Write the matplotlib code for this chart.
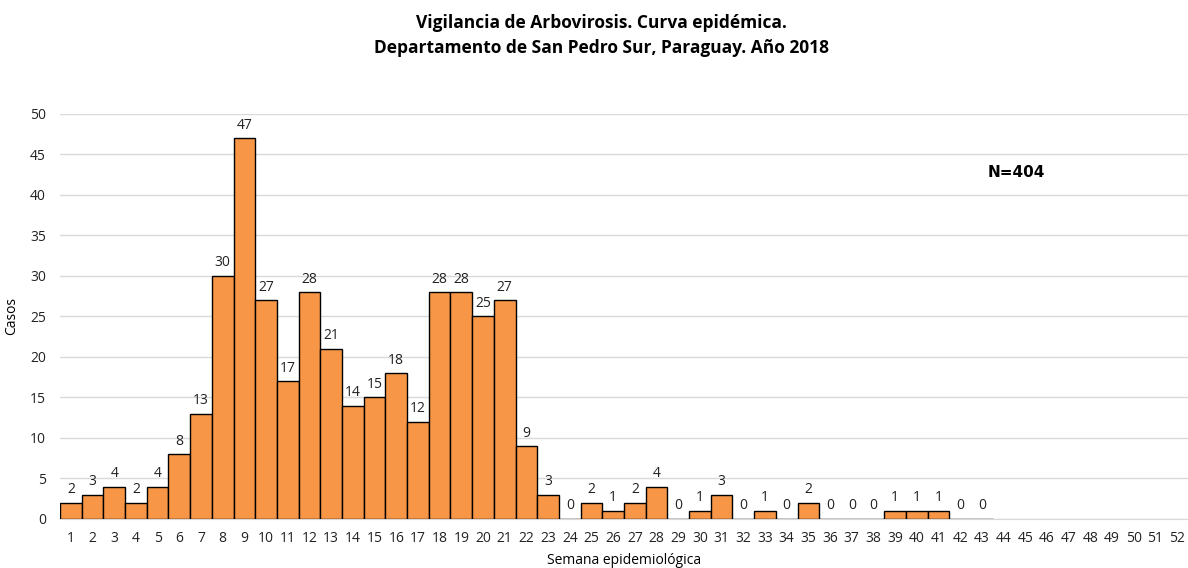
import matplotlib
matplotlib.use("Agg")
import matplotlib.pyplot as plt

# datos: casos por semana epidemiológica
semanas = list(range(1, 53))
casos = [2, 3, 4, 2, 4, 8, 13, 30, 47, 27, 17, 28, 21, 14, 15, 18, 12, 28, 28, 25,
         27, 9, 3, 0, 2, 1, 2, 4, 0, 1, 3, 0, 1, 0, 2, 0, 0, 0, 1, 1, 1, 0, 0]
titulo = "Vigilancia de Arbovirosis. Curva epidémica.\nDepartamento de San Pedro Sur, Paraguay. Año 2018"
total = "N=404"

plt.rcParams["font.family"] = ["Open Sans", "DejaVu Sans"]

fig = plt.figure(figsize=(11.88, 5.68), dpi=100)
ax = fig.add_axes([0.0505, 0.0863, 0.9495, 0.713])

semanas_con_datos = semanas[:len(casos)]
ax.bar(semanas_con_datos, casos, width=1.0, color="#F79646", edgecolor="black", linewidth=1.0, zorder=3)

for s, c in zip(semanas_con_datos, casos):
    ax.annotate(str(c), (s, c), xytext=(0, 4), textcoords="offset points",
                ha="center", va="bottom", fontsize=10, color="#222222")

ax.set_xlim(0.5, 52.5)
ax.set_ylim(0, 50)
ax.set_xticks(semanas)
ax.set_yticks(range(0, 51, 5))
ax.tick_params(axis="both", length=0, labelsize=10, colors="#222222")
ax.tick_params(axis="x", pad=9)
ax.tick_params(axis="y", pad=10)
ax.yaxis.grid(True, color="#d9d9d9", linewidth=1.0, zorder=0)
for lado in ["top", "right", "left"]:
    ax.spines[lado].set_visible(False)
ax.spines["bottom"].set_color("#d9d9d9")

ax.set_xlabel("Semana epidemiológica", fontsize=10, labelpad=5)
ax.set_ylabel("Casos", fontsize=10, labelpad=8)

ax.text(44.6, 42.8, total, fontsize=11, fontweight="bold", ha="center", va="center",
        family="DejaVu Sans")

fig.text(0.506, 0.938, titulo, ha="center", va="center", fontsize=12.5,
         fontweight="bold", linespacing=1.5)

fig.savefig("out.png", dpi=100)
